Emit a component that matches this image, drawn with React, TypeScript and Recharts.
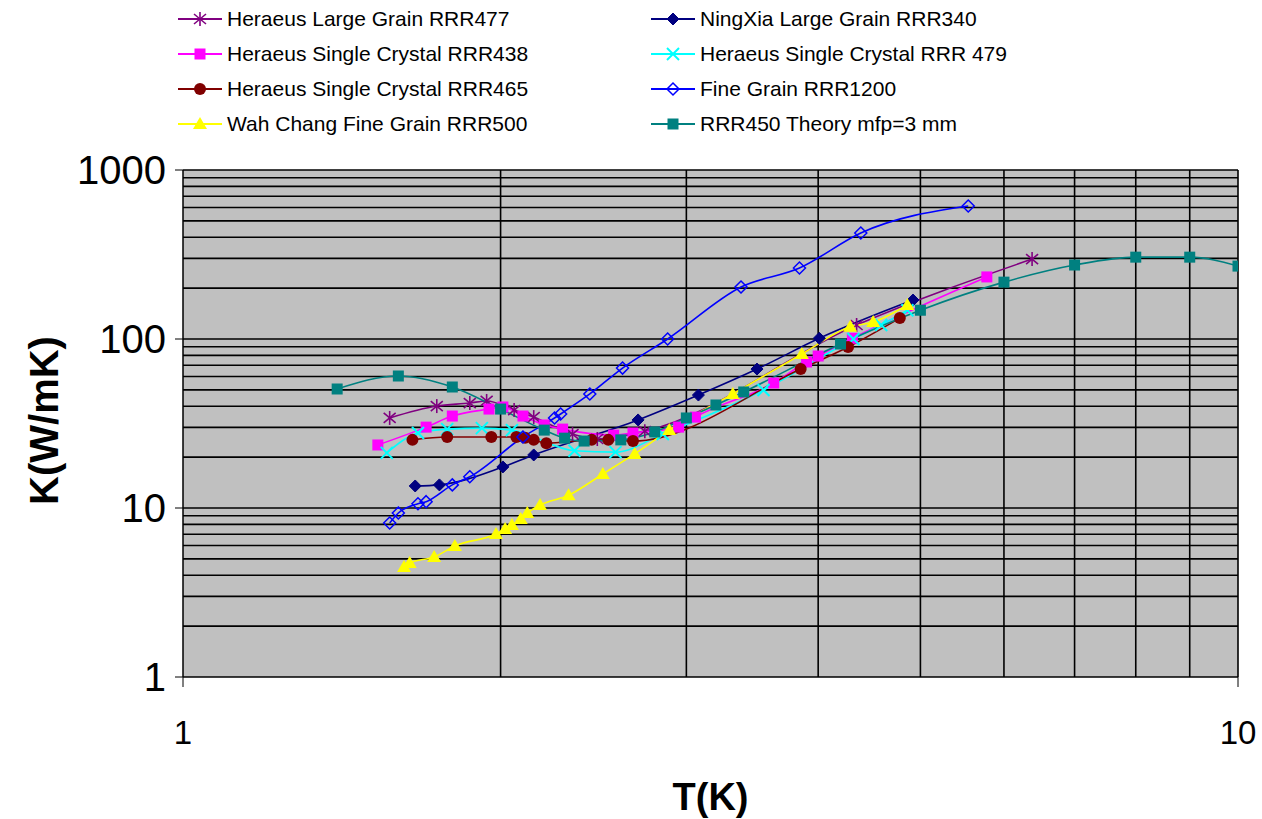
import React from 'react';
import { LineChart, Line, XAxis, YAxis, CartesianGrid, Label } from 'recharts';

// temperatures (K) and conductivities (W/mK)
const lgRRR477T = [1.57, 1.74, 1.87, 1.94, 2.06, 2.15, 2.34, 2.47, 2.74, 4.35, 6.38];
const lgRRR477K = [34.1, 40.1, 41.8, 43.0, 38.0, 34.5, 27.4, 25.6, 28.5, 121, 297];

const ningxiaT = [1.66, 1.75, 2.01, 2.15, 2.7, 3.08, 3.5, 4.01, 4.92];
const ningxiaK = [13.5, 13.7, 17.5, 20.6, 33.2, 46.6, 66.4, 101, 170];

const sc438T = [1.53, 1.7, 1.8, 1.95, 2.01, 2.1, 2.2, 2.29, 2.56, 2.67, 2.95, 3.06, 3.63, 3.9, 4.0, 4.31, 5.78];
const sc438K = [23.6, 30.1, 35.0, 38.5, 39.6, 35.0, 31.0, 29.3, 27.0, 27.8, 30.1, 34.5, 54.9, 73.1, 79.3, 101, 233];

const sc479T = [1.56, 1.67, 1.78, 1.92, 2.05, 2.35, 2.57, 2.85, 3.55, 4.32, 4.59, 4.86];
const sc479K = [21.2, 27.8, 29.3, 29.7, 28.9, 21.8, 21.4, 27.4, 49.9, 100, 121, 148];

const sc465T = [1.65, 1.78, 1.96, 2.07, 2.11, 2.15, 2.21, 2.44, 2.53, 2.67, 3.85, 4.27, 4.78];
const sc465K = [25.3, 26.3, 26.3, 26.3, 26.0, 25.3, 24.2, 25.3, 25.3, 24.9, 66.4, 89.7, 133];

const fg1200T = [1.57, 1.6, 1.67, 1.7, 1.8, 1.87, 2.1, 2.25, 2.28, 2.43, 2.61, 2.88, 3.38, 3.84, 4.39, 5.55];
const fg1200K = [8.15, 9.34, 10.6, 10.9, 13.7, 15.3, 26.3, 34.1, 36.0, 47.3, 67.3, 100, 203, 263, 424, 612];

const wahChangT = [1.62, 1.64, 1.73, 1.81, 1.98, 2.02, 2.05, 2.09, 2.12, 2.18, 2.32, 2.5, 2.68, 2.89, 3.32, 3.86, 4.29, 4.51, 4.86];
const wahChangK = [4.48, 4.73, 5.13, 5.96, 7.02, 7.51, 7.93, 8.61, 9.34, 10.4, 11.9, 15.9, 20.9, 28.9, 47.3, 81.5, 118, 126, 159];

const theoryT = [1.4, 1.6, 1.8, 2.0, 2.2, 2.3, 2.4, 2.6, 2.8, 3.0, 3.2, 3.4, 4.2, 5, 6, 7, 8, 9, 10];
const theoryK = [50.6, 60.4, 52, 38.5, 28.9, 25.9, 24.9, 25.3, 28.2, 34.1, 40.7, 48.6, 93.4, 148, 217, 274, 305, 305, 270];

const xTicks = [1, 10];
const yTicks = [1, 10, 100, 1000];
const xGrid = [2, 3, 4, 5, 6, 7, 8, 9, 10];
const yGrid = [
  2, 3, 4, 5, 6, 7, 8, 9, 10,
  20, 30, 40, 50, 60, 70, 80, 90, 100,
  200, 300, 400, 500, 600, 700, 800, 900, 1000,
];

const zip = (t: number[], k: number[]) => t.map((v, i) => ({ t: v, k: k[i] }));

type Mark = (cx: number, cy: number, key?: string | number) => React.ReactElement;

const star = (c: string): Mark => (cx, cy, key) => (
  <g key={key} stroke={c} strokeWidth={1.6}>
    <line x1={cx} y1={cy - 7} x2={cx} y2={cy + 7} />
    <line x1={cx - 6} y1={cy - 5} x2={cx + 6} y2={cy + 5} />
    <line x1={cx - 6} y1={cy + 5} x2={cx + 6} y2={cy - 5} />
  </g>
);
const cross = (c: string): Mark => (cx, cy, key) => (
  <g key={key} stroke={c} strokeWidth={2}>
    <line x1={cx - 6} y1={cy - 6} x2={cx + 6} y2={cy + 6} />
    <line x1={cx - 6} y1={cy + 6} x2={cx + 6} y2={cy - 6} />
  </g>
);
const square = (c: string): Mark => (cx, cy, key) => (
  <rect key={key} x={cx - 5.5} y={cy - 5.5} width={11} height={11} fill={c} />
);
const diamond = (c: string, open = false): Mark => (cx, cy, key) => (
  <path
    key={key}
    d={`M${cx},${cy - 6}L${cx + 6},${cy}L${cx},${cy + 6}L${cx - 6},${cy}Z`}
    fill={open ? 'none' : c}
    stroke={c}
    strokeWidth={open ? 1.5 : 1}
  />
);
const circle = (c: string): Mark => (cx, cy, key) => <circle key={key} cx={cx} cy={cy} r={6} fill={c} />;
const triangle = (c: string): Mark => (cx, cy, key) => (
  <path key={key} d={`M${cx},${cy - 7}L${cx + 7},${cy + 5}L${cx - 7},${cy + 5}Z`} fill={c} />
);

type Series = { name: string; color: string; data: { t: number; k: number }[]; mark: Mark };

const series: Series[] = [
  { name: 'Heraeus Large Grain RRR477', color: '#800080', data: zip(lgRRR477T, lgRRR477K), mark: star('#800080') },
  { name: 'NingXia Large Grain RRR340', color: '#000080', data: zip(ningxiaT, ningxiaK), mark: diamond('#000080') },
  { name: 'Heraeus Single Crystal RRR438', color: '#FF00FF', data: zip(sc438T, sc438K), mark: square('#FF00FF') },
  { name: 'Heraeus Single Crystal RRR 479', color: '#00FFFF', data: zip(sc479T, sc479K), mark: cross('#00FFFF') },
  { name: 'Heraeus Single Crystal RRR465', color: '#800000', data: zip(sc465T, sc465K), mark: circle('#800000') },
  { name: 'Fine Grain RRR1200', color: '#0000FF', data: zip(fg1200T, fg1200K), mark: diamond('#0000FF', true) },
  { name: 'Wah Chang Fine Grain RRR500', color: '#FFFF00', data: zip(wahChangT, wahChangK), mark: triangle('#FFFF00') },
  { name: 'RRR450 Theory mfp=3 mm', color: '#008080', data: zip(theoryT, theoryK), mark: square('#008080') },
];

// legend layout follows the original: two columns, four rows
const legendLeft = [0, 2, 4, 6];
const legendRight = [1, 3, 5, 7];

function LegendItem({ s }: { s: Series }) {
  return (
    <div style={{ display: 'flex', alignItems: 'center', height: 35 }}>
      <svg width={44} height={20} style={{ marginRight: 5 }}>
        <line x1={0} y1={10} x2={44} y2={10} stroke={s.color} strokeWidth={2} />
        {s.mark(22, 10)}
      </svg>
      <span style={{ fontSize: 21, whiteSpace: 'nowrap' }}>{s.name}</span>
    </div>
  );
}

const font = '"Liberation Sans", Arial, sans-serif';

export default function App() {
  return (
    <div style={{ position: 'absolute', left: 0, top: 0, width: 1262, height: 819, background: '#fff', fontFamily: font }}>
      <div style={{ position: 'absolute', left: 178, top: 1 }}>
        {legendLeft.map((i) => <LegendItem key={i} s={series[i]} />)}
      </div>
      <div style={{ position: 'absolute', left: 651, top: 1 }}>
        {legendRight.map((i) => <LegendItem key={i} s={series[i]} />)}
      </div>
      <LineChart width={1262} height={819} margin={{ top: 170, right: 24, bottom: 82, left: 103 }}>
        <CartesianGrid
          fill="#C0C0C0"
          fillOpacity={1}
          stroke="#000"
          strokeWidth={1.6}
          strokeDasharray=""
          horizontalValues={yGrid}
          verticalValues={xGrid}
        />
        <XAxis
          type="number"
          dataKey="t"
          scale="log"
          domain={[1, 10]}
          allowDataOverflow
          ticks={xTicks}
          interval={0}
          height={60}
          tickSize={10}
          tickMargin={34}
          axisLine={{ stroke: '#000', strokeWidth: 1.5 }}
          tickLine={{ stroke: '#000' }}
          tick={{ fill: '#000', fontSize: 33, fontFamily: font }}
        >
          <Label
            content={({ viewBox }: any) => (
              <text
                x={viewBox.x + viewBox.width / 2}
                y={viewBox.y + 133}
                textAnchor="middle"
                fontSize={38}
                fontWeight="bold"
                fontFamily={font}
                fill="#000"
              >
                T(K)
              </text>
            )}
          />
        </XAxis>
        <YAxis
          type="number"
          scale="log"
          domain={[1, 1000]}
          allowDataOverflow
          ticks={yTicks}
          interval={0}
          width={80}
          tickSize={8}
          tickMargin={9}
          axisLine={{ stroke: '#000', strokeWidth: 1.5 }}
          tickLine={{ stroke: '#000' }}
          tick={{ fill: '#000', fontSize: 40, fontFamily: font }}
        >
          <Label
            content={({ viewBox }: any) => {
              const x = viewBox.x - 45;
              const y = viewBox.y + viewBox.height / 2 - 3;
              return (
                <text
                  x={x}
                  y={y}
                  transform={`rotate(-90 ${x} ${y})`}
                  textAnchor="middle"
                  fontSize={40}
                  fontWeight="bold"
                  fontFamily={font}
                  fill="#000"
                >
                  K(W/mK)
                </text>
              );
            }}
          />
        </YAxis>
        {series.map((s) => (
          <Line
            key={s.name}
            data={s.data}
            dataKey="k"
            name={s.name}
            type="monotone"
            stroke={s.color}
            strokeWidth={1.6}
            dot={(p: any) => s.mark(p.cx, p.cy, `${s.name}-${p.index}`)}
            activeDot={false}
            isAnimationActive={false}
          />
        ))}
      </LineChart>
    </div>
  );
}
